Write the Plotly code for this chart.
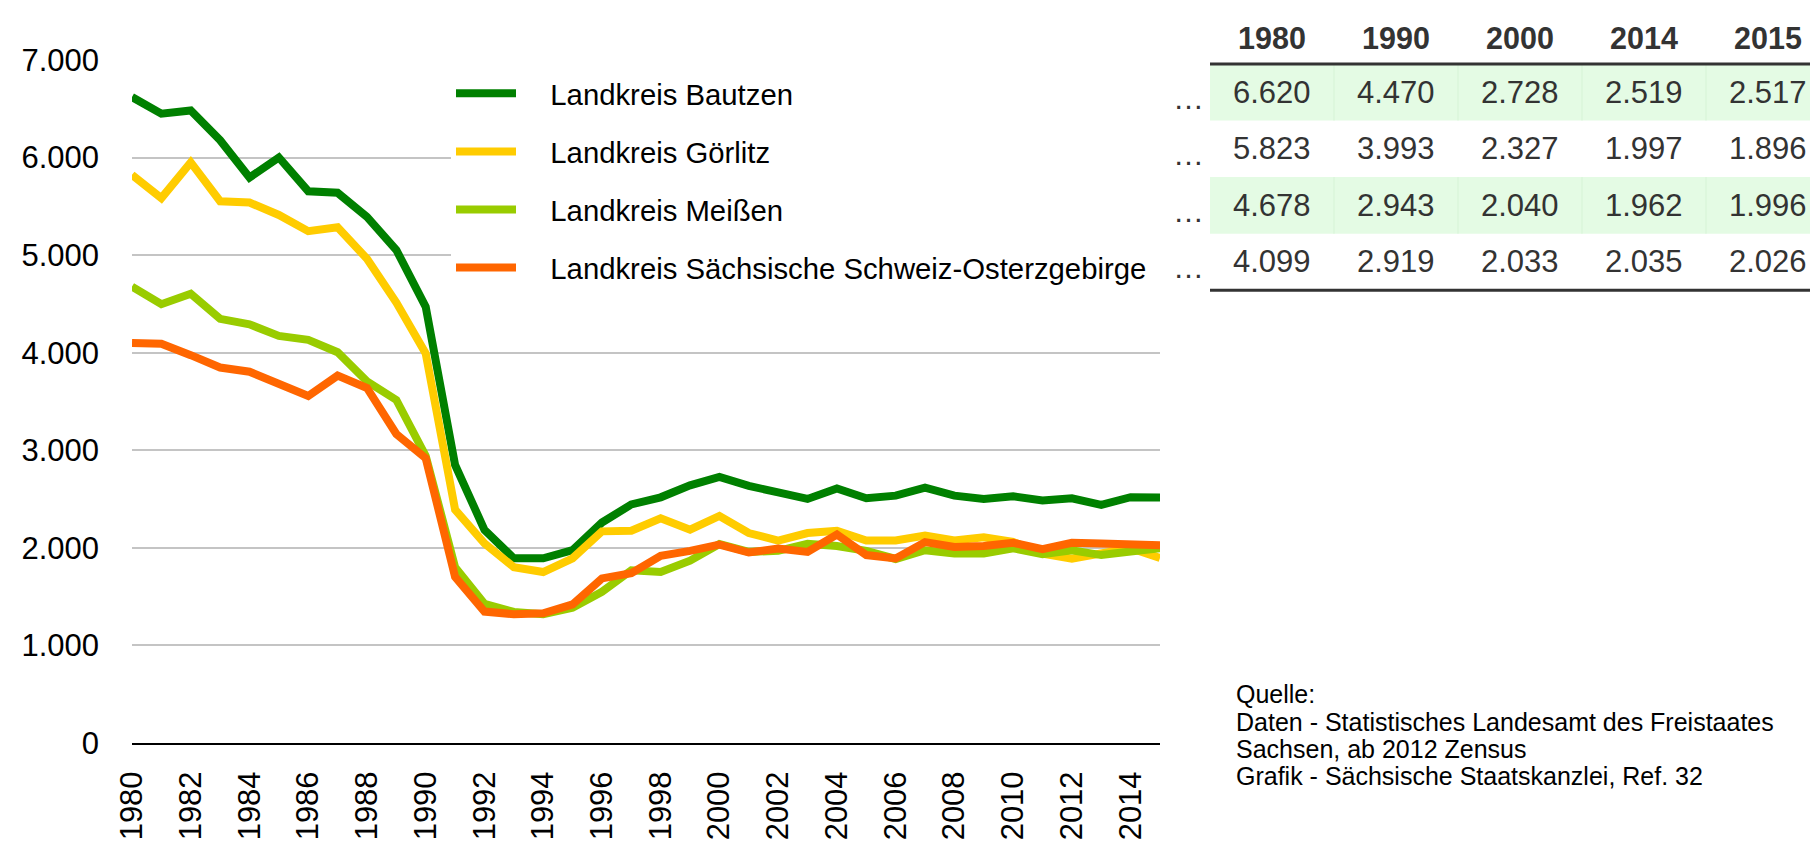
import plotly.graph_objects as go

years = list(range(1980, 2016))
series_names = ["Landkreis Bautzen", "Landkreis Görlitz", "Landkreis Meißen",
                "Landkreis Sächsische Schweiz-Osterzgebirge"]
bautzen = [6620, 6450, 6483, 6178, 5795, 6001, 5655, 5639, 5392, 5053, 4470, 2850,
           2185, 1893, 1893, 1976, 2260, 2445, 2518, 2641, 2728, 2636, 2568, 2501,
           2608, 2508, 2535, 2618, 2535, 2501, 2528, 2485, 2508, 2441, 2519, 2517]
goerlitz = [5823, 5585, 5951, 5552, 5539, 5412, 5246, 5286, 4963, 4514, 3993, 2392,
            2046, 1802, 1752, 1893, 2169, 2176, 2302, 2186, 2327, 2152, 2075, 2152,
            2176, 2075, 2075, 2126, 2075, 2109, 2060, 1940, 1888, 1936, 1997, 1896]
meissen = [4678, 4497, 4604, 4347, 4291, 4172, 4132, 4005, 3706, 3516, 2943, 1802,
           1427, 1343, 1320, 1387, 1550, 1770, 1753, 1869, 2040, 1959, 1969, 2042,
           2019, 1969, 1886, 1976, 1942, 1942, 1996, 1936, 1976, 1926, 1962, 1996]
sso = [4099, 4092, 3975, 3848, 3805, 3683, 3556, 3765, 3639, 3167, 2919, 1703,
       1347, 1320, 1330, 1420, 1687, 1740, 1919, 1969, 2033, 1952, 1992, 1959,
       2136, 1926, 1892, 2059, 2009, 2019, 2052, 1986, 2052, 2045, 2035, 2026]
series_values = [bautzen, goerlitz, meissen, sso]
colors = ["#008000", "#FFCC00", "#99CC00", "#FF6600"]

table_years = [1980, 1990, 2000, 2014, 2015]
source_lines = ["Quelle:",
                "Daten - Statistisches Landesamt des Freistaates",
                "Sachsen, ab 2012 Zensus",
                "Grafik - Sächsische Staatskanzlei, Ref. 32"]

W, H = 1818, 844
ML, MR, MT, MB = 124, 666, 52, 92
PW, PH = W - ML - MR, H - MT - MB


def xp(px):
    return (px - ML) / PW


def yp(py):
    return (H - MB - py) / PH


def de(v):
    return f"{v:,}".replace(",", ".")


FONT = "Liberation Sans, Arial, sans-serif"
GAP = "\u2002\u2002"

fig = go.Figure()
for i, (name, vals, col) in enumerate(zip(series_names, series_values, colors)):
    fig.add_trace(go.Scatter(x=years, y=vals, mode="lines",
                             name=GAP + name + "\u2002",
                             legendgroup=f"g{i}",
                             line=dict(color=col, width=8)))

shapes = []
annotations = []

# table
col_left = 1202
col_w = 124
row_top = 56
row_h = 58
for r in range(4):
    y0, y1 = row_top + r * row_h, row_top + (r + 1) * row_h
    if r % 2 == 0:
        shapes.append(dict(type="rect", xref="paper", yref="paper",
                           x0=xp(col_left), x1=xp(W + 5), y0=yp(y1), y1=yp(y0),
                           fillcolor="#e4fbe4", line=dict(width=0), layer="below"))
        for c in range(1, 5):
            xx = xp(col_left + c * col_w)
            shapes.append(dict(type="line", xref="paper", yref="paper",
                               x0=xx, x1=xx, y0=yp(y1), y1=yp(y0),
                               line=dict(color="#d6f3d6", width=1), layer="below"))
    yc = (y0 + y1) / 2
    for c, yr in enumerate(table_years):
        val = series_values[r][years.index(yr)]
        annotations.append(dict(xref="paper", yref="paper",
                                x=xp(col_left + (c + 0.5) * col_w), y=yp(yc),
                                text=de(val), showarrow=False,
                                xanchor="center", yanchor="middle",
                                font=dict(family=FONT, size=31, color="#333333")))
    annotations.append(dict(xref="paper", yref="paper", x=xp(1198), y=yp(yc + 6),
                            text="…", showarrow=False, xanchor="right",
                            yanchor="middle",
                            font=dict(family=FONT, size=31, color="#333333")))

for c, yr in enumerate(table_years):
    annotations.append(dict(xref="paper", yref="paper",
                            x=xp(col_left + (c + 0.5) * col_w), y=yp(29),
                            text=f"<b>{yr}</b>", showarrow=False,
                            xanchor="center", yanchor="middle",
                            font=dict(family=FONT, size=30.5, color="#333333")))

for yy in (row_top, row_top + 4 * row_h):
    shapes.append(dict(type="line", xref="paper", yref="paper",
                       x0=xp(col_left), x1=xp(W + 5), y0=yp(yy), y1=yp(yy),
                       line=dict(color="#333333", width=3)))

for k, line in enumerate(source_lines):
    annotations.append(dict(xref="paper", yref="paper", x=xp(1227),
                            y=yp(702 + 28 * k), text=line, showarrow=False,
                            xanchor="left", yanchor="middle", borderpad=0,
                            font=dict(family=FONT, size=25, color="#000000")))

fig.update_layout(
    width=W, height=H,
    margin=dict(l=ML, r=MR, t=MT, b=MB, pad=0),
    paper_bgcolor="white", plot_bgcolor="white",
    separators=",.",
    font=dict(family=FONT, size=30, color="#000000"),
    showlegend=True,
    legend=dict(x=xp(443), y=yp(60), xanchor="left", yanchor="top",
                bgcolor="white", borderwidth=0,
                font=dict(family=FONT, size=29.3, color="#000000"),
                tracegroupgap=17, itemwidth=60),
    xaxis=dict(range=[1980, 2015], tickmode="array",
               tickvals=list(range(1980, 2015, 2)),
               ticktext=[str(y) for y in range(1980, 2015, 2)],
               tickangle=-90, showgrid=False, zeroline=False,
               showline=True, linecolor="#000000", linewidth=2,
               ticks="", ticklabelstandoff=14,
               tickfont=dict(family=FONT, size=31, color="#000000")),
    yaxis=dict(range=[0, 7000], tickvals=[0, 1000, 2000, 3000, 4000, 5000, 6000, 7000],
               tickformat=",d", showgrid=True, gridcolor="#c4c4c4", gridwidth=1.5,
               zeroline=False, showline=False, ticks="", ticklabelstandoff=32,
               tickfont=dict(family=FONT, size=31, color="#000000")),
    shapes=shapes, annotations=annotations,
)

fig.write_html("out.html")
